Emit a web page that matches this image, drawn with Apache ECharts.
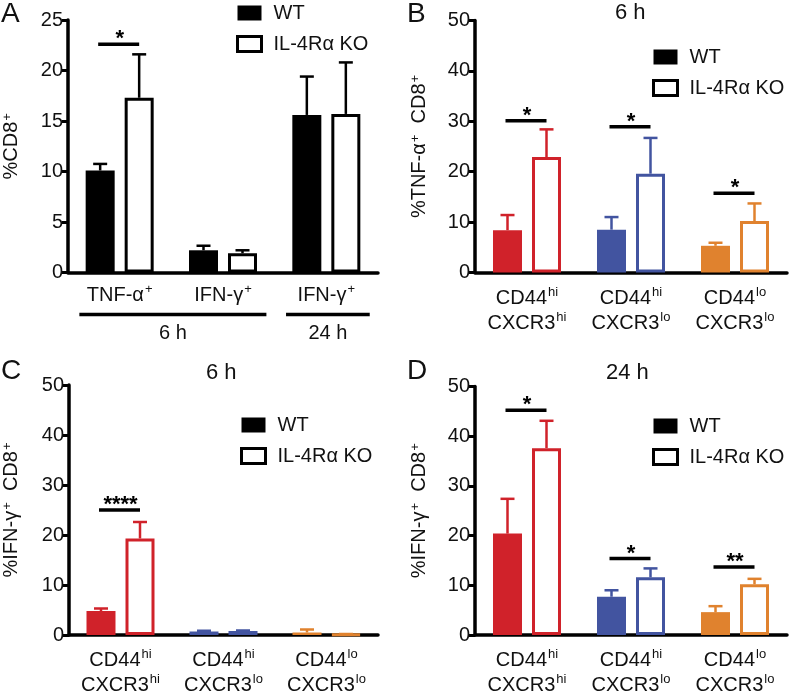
<!DOCTYPE html>
<html>
<head>
<meta charset="utf-8">
<script src="https://cdn.jsdelivr.net/npm/echarts@6/dist/echarts.min.js"></script>
<style>
  html, body { margin: 0; padding: 0; background: #fff; }
  #main { width: 789px; height: 698px; }
</style>
</head>
<body>
<div id="main"></div>
<script>
var chart = echarts.init(document.getElementById('main'));

// panel A
var aCats = ['TNF 6h', 'IFN 6h', 'IFN 24h'];
var aLabels = ['TNF-α', 'IFN-γ', 'IFN-γ'];
var aWT = [10.1, 2.2, 15.6];
var aWTsem = [0.65, 0.45, 3.8];
var aKO = [17.3, 1.9, 15.7];
var aKOsem = [4.3, 0.3, 5.1];
var aSig = [[0, 22.6]];
var aSigText = ['*'];
var aGroups = [[0, 1], [2, 2]];
var aGroupText = ['6 h', '24 h'];

// panels B-D share subsets
var subsets = ['hi_hi', 'hi_lo', 'lo_lo'];
var subsetCD44 = ['hi', 'hi', 'lo'];
var subsetCXCR3 = ['hi', 'lo', 'lo'];
var subsetColors = ['#d0222a', '#4254a0', '#e0822e'];

// B: TNF-a 6 h
var bWT = [8.4, 8.5, 5.3];
var bWTsem = [3.0, 2.5, 0.6];
var bKO = [22.9, 19.6, 10.2];
var bKOsem = [5.5, 7.1, 3.5];
var bSig = [[0, 30.1], [1, 28.9], [2, 15.7]];
var bSigText = ['*', '*', '*'];

// C: IFN-g 6 h
var cWT = [4.8, 0.7, 0.5];
var cWTsem = [0.5, 0.15, 0.6];
var cKO = [19.3, 0.8, 0.15];
var cKOsem = [3.3, 0.1, 0.05];
var cSig = [[0, 25]];
var cSigText = ['****'];

// D: IFN-g 24 h
var dWT = [20.4, 7.7, 4.6];
var dWTsem = [7.0, 1.3, 1.2];
var dKO = [37.6, 11.6, 10.2];
var dKOsem = [5.5, 1.8, 1.1];
var dSig = [[0, 45.2], [1, 15.4], [2, 13.7]];
var dSigText = ['*', '*', '**'];

var FONT = 'Liberation Sans, Arial, Helvetica, sans-serif';
var BAR_W = 29;
var HALF = 19.5; // bar centre offset from category centre

var sup = {
  n: { fontSize: 20, fontFamily: FONT, color: '#111' },
  s: { fontSize: 13, fontFamily: FONT, color: '#111', verticalAlign: 'top', padding: [0, 0, 8, 1] }
};

function errData(mean, sem) {
  return mean.map(function (m, i) { return [i, m, m + sem[i]]; });
}

function errRender(offset, colors) {
  return function (params, api) {
    var c = api.value(0);
    var p0 = api.coord([c, api.value(1)]);
    var p1 = api.coord([c, api.value(2)]);
    var x = p0[0] + offset;
    var col = colors ? colors[c] : '#000';
    return {
      type: 'group',
      children: [
        { type: 'line', shape: { x1: x, y1: p0[1], x2: x, y2: p1[1] }, style: { stroke: col, lineWidth: 2.5 } },
        { type: 'line', shape: { x1: x - 7, y1: p1[1], x2: x + 7, y2: p1[1] }, style: { stroke: col, lineWidth: 2.5 } }
      ]
    };
  };
}

function sigRender(texts) {
  return function (params, api) {
    var p = api.coord([api.value(0), api.value(1)]);
    return {
      type: 'group',
      children: [
        { type: 'line', shape: { x1: p[0] - HALF - 2, y1: p[1], x2: p[0] + HALF, y2: p[1] }, style: { stroke: '#000', lineWidth: 3.5 } },
        { type: 'text', x: p[0], y: p[1] - 5, style: { text: texts[params.dataIndex], textAlign: 'center', textVerticalAlign: 'middle', font: 'bold 22px ' + FONT, fill: '#000' } }
      ]
    };
  };
}

function groupRender(params, api) {
  var s = api.coord([api.value(0), 0]);
  var e = api.coord([api.value(1), 0]);
  var w = api.size([1, 0])[0];
  var y = s[1] + 42;
  var x1 = s[0] - 0.39 * w, x2 = e[0] + 0.42 * w;
  return {
    type: 'group',
    children: [
      { type: 'line', shape: { x1: x1, y1: y, x2: x2, y2: y }, style: { stroke: '#000', lineWidth: 3.5 } },
      { type: 'text', x: (x1 + x2) / 2, y: y + 19, style: { text: aGroupText[params.dataIndex], textAlign: 'center', textVerticalAlign: 'middle', font: '20px ' + FONT, fill: '#111' } }
    ]
  };
}

var grids = [
  { left: 64, top: 20, width: 314, height: 252.5 },
  { left: 475, top: 20.5, width: 312, height: 252 },
  { left: 66, top: 385, width: 312, height: 251 },
  { left: 475, top: 386.5, width: 312, height: 249.5 }
];

function xAxisFor(idx, cats, formatter) {
  return {
    type: 'category', gridIndex: idx, data: cats,
    axisLine: { lineStyle: { color: '#000', width: 3.5 } },
    axisTick: { alignWithLabel: true, length: 7, lineStyle: { width: 3, color: '#000' } },
    axisLabel: { formatter: formatter, margin: 10, interval: 0, rich: sup, lineHeight: 25, color: '#111', fontSize: 20, fontFamily: FONT },
    splitLine: { show: false }
  };
}

function yAxisFor(idx, max, interval, name, gap) {
  return {
    type: 'value', gridIndex: idx, min: 0, max: max, interval: interval,
    name: name, nameLocation: 'middle', nameRotate: 90, nameGap: gap,
    nameTextStyle: { rich: sup },
    axisLine: { show: true, lineStyle: { color: '#000', width: 3.5 } },
    axisTick: { show: true, length: 6, lineStyle: { width: 3, color: '#000' } },
    axisLabel: { color: '#111', fontSize: 20, fontFamily: FONT, margin: 5 },
    splitLine: { show: false }
  };
}

var subsetFormatter = function (v, i) {
  return '{n|CD44}{s|' + subsetCD44[i] + '}\n{n|CXCR3}{s|' + subsetCXCR3[i] + '}';
};

var xAxes = [
  xAxisFor(0, aCats, function (v, i) { return '{n|' + aLabels[i] + '}{s|+}'; }),
  xAxisFor(1, subsets, subsetFormatter),
  xAxisFor(2, subsets, subsetFormatter),
  xAxisFor(3, subsets, subsetFormatter)
];
xAxes[1].axisLabel.margin = 13;
xAxes[2].axisLabel.margin = 13;
xAxes[3].axisLabel.margin = 13;

var yAxes = [
  yAxisFor(0, 25, 5, '{n|%CD8}{s|+}', 46),
  yAxisFor(1, 50, 10, '{n|%TNF-α}{s|+}{n|  CD8}{s|+}', 45),
  yAxisFor(2, 50, 10, '{n|%IFN-γ}{s|+}{n|  CD8}{s|+}', 47),
  yAxisFor(3, 50, 10, '{n|%IFN-γ}{s|+}{n|  CD8}{s|+}', 45)
];

var series = [];
var panels = [
  { wt: aWT, wts: aWTsem, ko: aKO, kos: aKOsem, sig: aSig, sigText: aSigText, colors: null },
  { wt: bWT, wts: bWTsem, ko: bKO, kos: bKOsem, sig: bSig, sigText: bSigText, colors: subsetColors },
  { wt: cWT, wts: cWTsem, ko: cKO, kos: cKOsem, sig: cSig, sigText: cSigText, colors: subsetColors },
  { wt: dWT, wts: dWTsem, ko: dKO, kos: dKOsem, sig: dSig, sigText: dSigText, colors: subsetColors }
];

panels.forEach(function (p, k) {
  var cols = p.colors;
  series.push({
    name: 'WT', type: 'bar', xAxisIndex: k, yAxisIndex: k,
    barWidth: BAR_W, barGap: '34.5%',
    itemStyle: { color: '#000' },
    data: p.wt.map(function (v, i) { return { value: v, itemStyle: { color: cols ? cols[i] : '#000' } }; })
  });
  series.push({
    name: 'IL-4Rα KO', type: 'bar', xAxisIndex: k, yAxisIndex: k,
    barWidth: BAR_W, barGap: '34.5%',
    itemStyle: { color: '#fff', borderColor: '#000', borderWidth: 3 },
    data: p.ko.map(function (v, i) { return { value: v, itemStyle: { color: '#fff', borderColor: cols ? cols[i] : '#000', borderWidth: 3 } }; })
  });
  series.push({
    type: 'custom', xAxisIndex: k, yAxisIndex: k, z: 3, silent: true,
    renderItem: errRender(-HALF, cols), data: errData(p.wt, p.wts), encode: { x: 0, y: [1, 2] }
  });
  series.push({
    type: 'custom', xAxisIndex: k, yAxisIndex: k, z: 1, silent: true,
    renderItem: errRender(HALF, cols), data: errData(p.ko, p.kos), encode: { x: 0, y: [1, 2] }
  });
  series.push({
    type: 'custom', xAxisIndex: k, yAxisIndex: k, z: 3, silent: true,
    renderItem: sigRender(p.sigText), data: p.sig, encode: { x: 0, y: 1 }
  });
});

series.push({
  type: 'custom', xAxisIndex: 0, yAxisIndex: 0, clip: false, silent: true,
  renderItem: groupRender, data: aGroups, encode: { x: [0, 1] }
});

function legendAt(left, top) {
  return {
    left: left, top: top, padding: 0, orient: 'vertical', itemWidth: 24, itemHeight: 15, itemGap: 11,
    icon: 'rect', data: ['WT', 'IL-4Rα KO'], selectedMode: false,
    itemStyle: { borderWidth: 3 },
    textStyle: { fontSize: 20, fontFamily: FONT, color: '#111', padding: [0, 0, 0, 7] }
  };
}

function titleAt(text, left, top, size) {
  return { text: text, left: left, top: top, padding: 0, textStyle: { fontSize: size, fontWeight: 'normal', fontFamily: FONT, color: '#111' } };
}

chart.setOption({
  animation: false,
  backgroundColor: '#fff',
  title: [
    titleAt('A', 1, 0, 28), titleAt('B', 407, 0, 28), titleAt('C', 1, 357, 28), titleAt('D', 407, 357, 28),
    titleAt('6 h', 615, 2, 22), titleAt('6 h', 206, 362, 22), titleAt('24 h', 606, 362, 22)
  ],
  legend: [legendAt(236, 3), legendAt(652, 47), legendAt(240, 415), legendAt(652, 416)],
  grid: grids,
  xAxis: xAxes,
  yAxis: yAxes,
  series: series
});
</script>
</body>
</html>
